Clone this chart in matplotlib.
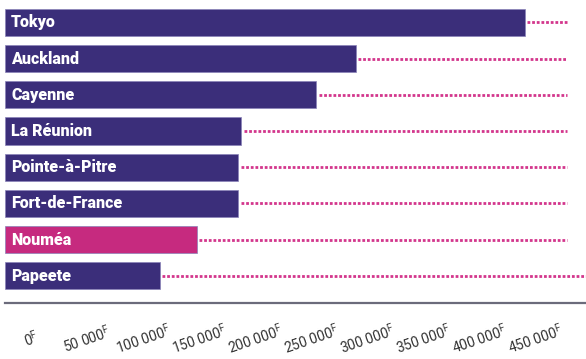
import matplotlib
matplotlib.use("Agg")
import matplotlib.pyplot as plt
import matplotlib.transforms as mtransforms

plt.rcParams['font.family'] = ['Roboto', 'DejaVu Sans']
plt.rcParams['mathtext.fontset'] = 'custom'
plt.rcParams['mathtext.rm'] = 'Roboto'
plt.rcParams['lines.scale_dashes'] = False

# data (CFP francs)
cities = ['Tokyo', 'Auckland', 'Cayenne', 'La Réunion', 'Pointe-à-Pitre',
          'Fort-de-France', 'Nouméa', 'Papeete']
values = [464000, 313000, 278000, 211000, 208000, 208000, 171000, 138000]
line_ends = [502000, 502000, 502000, 502000, 502000, 502000, 502000, 519000]
highlight = 'Nouméa'
ticks = [0, 50000, 100000, 150000, 200000, 250000, 300000, 350000, 400000, 450000]
tick_labels = [f"{t:,}".replace(",", " ") + r"$^{\mathrm{F}}$" for t in ticks]

purple = '#3b2e7a'
pink = '#c62a7f'
dots = '#d3368c'

fig = plt.figure(figsize=(5.86, 3.59), dpi=100)
ax = fig.add_axes([5 / 586, 56 / 359, 581 / 586, 303 / 359])

ypos = list(range(len(cities)))
colors = [pink if c == highlight else purple for c in cities]
ax.barh(ypos, values, height=0.75, color=colors, edgecolor='#8a82b8', linewidth=0.5)
for y, v, e, c in zip(ypos, values, line_ends, cities):
    ax.hlines(y, v + 2500, e, colors=dots, linewidth=2.0, linestyles=(0, (2.0, 1.35)))
    ax.text(5500, y, c, color='white', fontsize=11.5, fontweight='heavy',
            va='center', ha='left')

ax.set_xlim(0, 518750)
ax.set_ylim(7.75, -0.62)
ax.set_yticks([])
ax.set_xticks(ticks)
ax.set_xticklabels(tick_labels, rotation=19, ha='center', va='center',
                   fontsize=10, color='#333333')
ax.tick_params(axis='x', length=0, pad=26)
offset = mtransforms.ScaledTranslation(26 / 100, 0, fig.dpi_scale_trans)
for lab in ax.get_xticklabels():
    lab.set_transform(lab.get_transform() + offset)

for s in ['top', 'right', 'left']:
    ax.spines[s].set_visible(False)
ax.spines['bottom'].set_color('#6b6b7b')
ax.spines['bottom'].set_linewidth(1.6)

fig.savefig('out.png', dpi=100)
